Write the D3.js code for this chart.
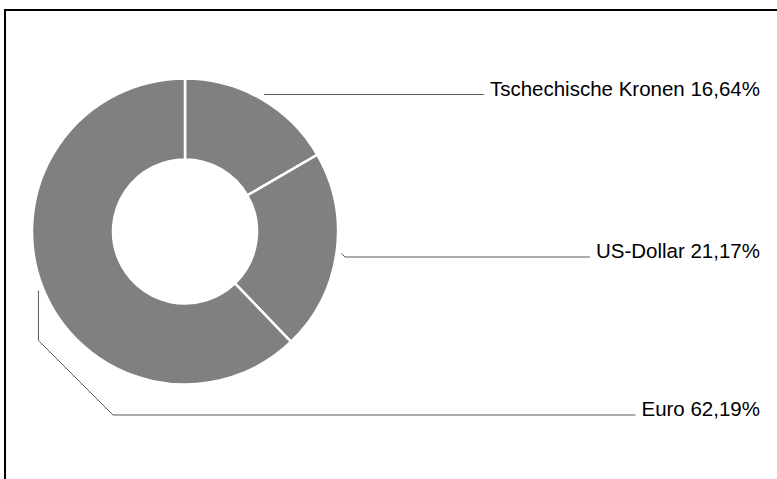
<!DOCTYPE html>
<html lang="de">
  <head>
    <meta charset="UTF-8">
    <title>Währungen</title>
    <style>
      body { margin: 0; background: #fff; }
      .slice { fill: #808080; stroke: #fff; stroke-width: 2.5; }
      .leader { fill: none; stroke: #5a5a5a; stroke-width: 1; }
      .label { font-family: "Liberation Sans", Arial, Helvetica, sans-serif; font-size: 20.5px; fill: #000; }
    </style>
    <script src="https://d3js.org/d3.v7.min.js"></script>
  </head>
  <body>
    <script>
      // data
      const categories = ["Tschechische Kronen", "US-Dollar", "Euro"];
      const shares = [16.64, 21.17, 62.19];

      const width = 777;
      const height = 479;
      const cx = 185, cy = 231.5;
      const outerR = 153, innerR = 72;
      const labelRight = 760;
      // where each leader line meets its label (y) and where it turns horizontal (x)
      const labelY = [94.5, 257, 415];
      const bendX = [null, 345, 113];

      const fmt = v => v.toFixed(2).replace(".", ",") + "%";

      const svg = d3.select("body").append("svg")
        .attr("width", width)
        .attr("height", height);

      svg.append("rect")
        .attr("x", 5).attr("y", 10)
        .attr("width", 820).attr("height", 520)
        .attr("fill", "none").attr("stroke", "#000").attr("stroke-width", 2);

      const pie = d3.pie().sort(null).value(d => d);
      const arcs = pie(shares);
      const arc = d3.arc().innerRadius(innerR).outerRadius(outerR);

      const g = svg.append("g").attr("transform", `translate(${cx},${cy})`);
      g.selectAll(".slice")
        .data(arcs)
        .enter()
        .append("path")
        .attr("class", "slice")
        .attr("d", arc);

      arcs.forEach((a, i) => {
        const mid = (a.startAngle + a.endAngle) / 2;
        const r = outerR + 5;
        const sx = cx + r * Math.sin(mid);
        const sy = cy - r * Math.cos(mid);
        const ly = labelY[i];

        const text = svg.append("text")
          .attr("class", "label")
          .attr("text-anchor", "end")
          .attr("x", labelRight)
          .attr("y", ly + 1)
          .text(categories[i] + " " + fmt(shares[i]));
        const tw = text.node().getComputedTextLength();

        let pts;
        if (bendX[i] === null) {
          pts = [[sx, ly], [labelRight - tw - 6, ly]];
        } else {
          const bx = bendX[i];
          pts = [[sx, sy], [sx, ly - Math.abs(bx - sx)], [bx, ly], [labelRight - tw - 6, ly]];
        }
        svg.append("path")
          .attr("class", "leader")
          .attr("d", d3.line()(pts));
      });
    </script>
  </body>
</html>
